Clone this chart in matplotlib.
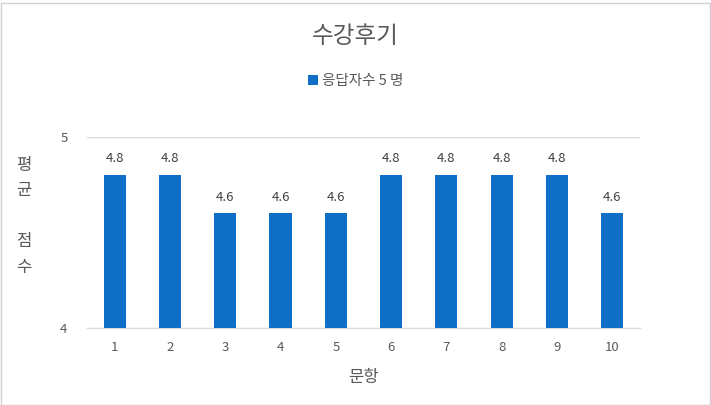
import matplotlib.pyplot as plt
from matplotlib.patches import Rectangle

plt.rcParams['font.family'] = ['Noto Sans CJK KR', 'DejaVu Sans']

questions = [1, 2, 3, 4, 5, 6, 7, 8, 9, 10]
avg_scores = [4.8, 4.8, 4.6, 4.6, 4.6, 4.8, 4.8, 4.8, 4.8, 4.6]
series_label = "응답자수 5 명"
title = "수강후기"

text_color = "#595959"
bar_color = "#0F6FC6"


def main():
    fig = plt.figure(figsize=(7.11, 4.05), dpi=100)
    ax = fig.add_axes([0.1224, 0.1901, 0.7776, 0.4716])

    bars = ax.bar(questions, avg_scores, width=0.4, color=bar_color, label=series_label, zorder=3)
    for b, v in zip(bars, avg_scores):
        ax.annotate(f"{v}", (b.get_x() + b.get_width() / 2, v), xytext=(0, 7),
                    textcoords="offset points", ha="center", va="bottom",
                    fontsize=9.5, color="#404040")

    ax.set_xlim(0.5, 10.5)
    ax.set_ylim(4, 5)
    ax.set_yticks([4, 5])
    ax.set_xticks(questions)
    ax.tick_params(axis="both", length=0, labelsize=9.5, colors=text_color)
    ax.tick_params(axis="x", pad=9)
    ax.tick_params(axis="y", pad=14)
    ax.grid(axis="y", color="#D9D9D9", linewidth=1, zorder=0)
    for s in ["top", "right", "left"]:
        ax.spines[s].set_visible(False)
    ax.spines["bottom"].set_color("#D9D9D9")

    ax.set_xlabel("문항", fontsize=12, color=text_color, labelpad=11)

    fig.text(0.5, 0.91, title, ha="center", va="center", fontsize=17, color=text_color)
    fig.legend(loc="center", bbox_to_anchor=(0.5, 0.80), frameon=False, fontsize=10.5,
               handlelength=0.7, handleheight=0.7, handletextpad=0.3, labelcolor=text_color)
    fig.text(0.034, 0.466, "평\n균\n\n점\n수", ha="center", va="center", fontsize=12,
             color=text_color, linespacing=1.65)

    fig.patches.append(Rectangle((0.001, 0.001), 0.998, 0.992, transform=fig.transFigure,
                                 fill=False, edgecolor="#D0D0D0", linewidth=1))

    fig.savefig("out.png", dpi=100)


if __name__ == "__main__":
    main()
